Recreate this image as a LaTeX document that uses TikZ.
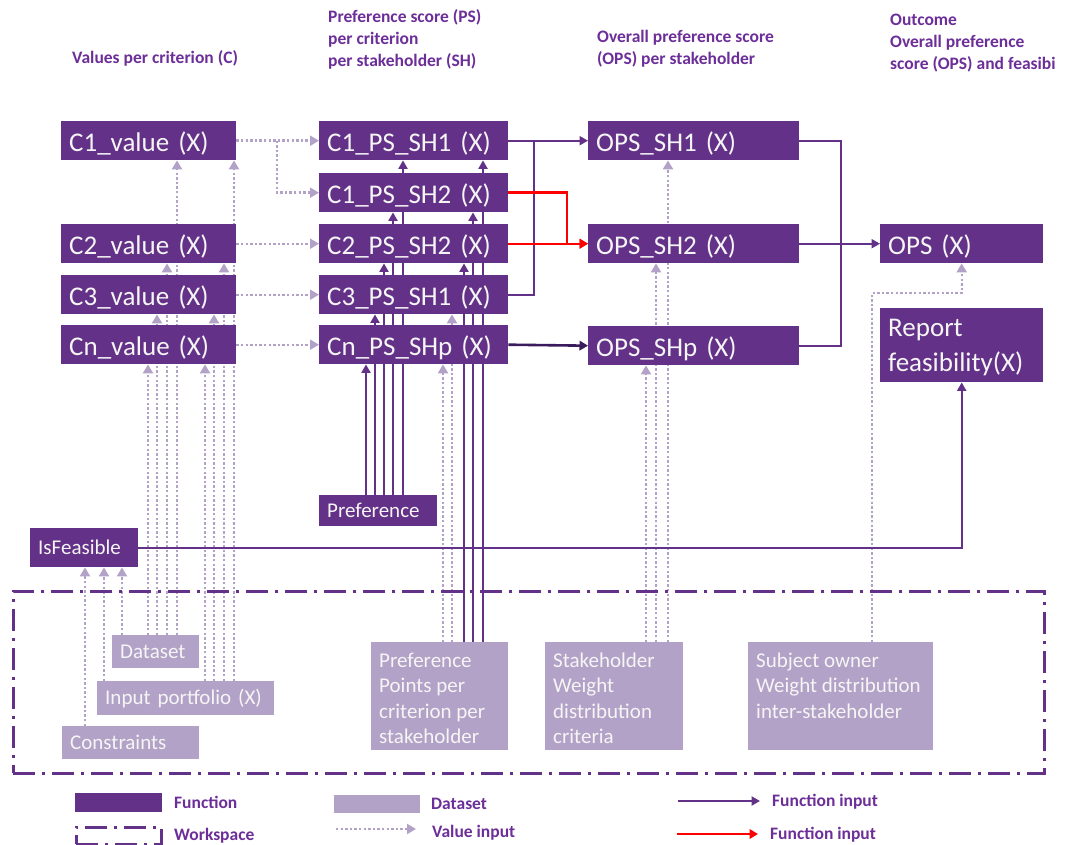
\documentclass[tikz,border=0pt]{standalone}
\usepackage{fontspec}
\setmainfont{Carlito}
\usetikzlibrary{arrows.meta}
\definecolor{fnc}{RGB}{99,49,135}
\definecolor{lav}{RGB}{179,162,199}
\definecolor{hdr}{RGB}{108,46,152}
\definecolor{dk}{RGB}{58,28,92}
\definecolor{txt}{RGB}{245,245,245}
\pgfdeclarelayer{bg}
\pgfsetlayers{bg,main}
\begin{document}
\begin{tikzpicture}[x=1pt,y=-1pt,
  fnbase/.style={fill=fnc, text=txt, anchor=north west, inner xsep=8pt, inner ysep=0pt, font=\fontsize{27}{33}\selectfont},
  fn/.style={fnbase, align=left, text height=22pt, text depth=0pt},
  fns/.style={fnbase, align=left, font=\fontsize{21}{25.5}\selectfont, text height=14pt, text depth=0pt},
  db/.style={fill=lav, text=txt, anchor=north west, inner xsep=8pt, inner ysep=0pt, align=left, font=\fontsize{21}{25.5}\selectfont},
  dbp/.style={fill=lav, text=txt, anchor=north west, inner xsep=8pt, inner ysep=0pt, font=\fontsize{21}{25.5}\selectfont},
  hd/.style={text=hdr, anchor=north west, inner sep=0pt, align=left, font=\fontsize{17.5}{22}\selectfont\bfseries},
  lg/.style={text=hdr, anchor=west, inner sep=0pt, font=\fontsize{17.5}{22}\selectfont\bfseries},
  val/.style={draw=lav, line width=2.4pt, dash pattern=on 2.4pt off 2.2pt, -{Triangle[length=9pt,width=10pt]}},
  fin/.style={draw=fnc, line width=2.2pt, -{Triangle[length=8.5pt,width=9pt]}},
  finl/.style={draw=fnc, line width=2.2pt},
  redf/.style={draw=red, line width=2.4pt, -{Triangle[length=8.5pt,width=9.5pt]}},
  dkf/.style={draw=dk, line width=2.6pt, -{Triangle[length=8.5pt,width=9.5pt]}},
  wsp/.style={draw=fnc, line width=2.5pt, dash pattern=on 22pt off 7pt on 3pt off 7pt, anchor=north west, inner sep=0pt}
]
\useasboundingbox (0,0) rectangle (1073,845);

% headers
\node[hd] (h1) at (72,50) {Values per criterion (C)};
\node[hd] (h2) at (328,9) {Preference score (PS)\\per criterion\\per stakeholder (SH)};
\node[hd] (h3) at (597,30) {Overall preference score\\(OPS) per stakeholder};
\node[hd] (h4) at (890,14) {Outcome\\Overall preference\\score (OPS) and feasibi};

% value functions
\node[fn, text width=159pt, minimum height=39pt] (c1v) at (61,121) {C1\_value (X)};
\node[fn, text width=159pt, minimum height=39pt] (c2v) at (61,224) {C2\_value (X)};
\node[fn, text width=159pt, minimum height=39pt] (c3v) at (61,275) {C3\_value (X)};
\node[fn, text width=159pt, minimum height=39pt] (cnv) at (61,325) {Cn\_value (X)};

% preference score functions
\node[fn, text width=173pt, minimum height=39pt] (p11) at (319,121) {C1\_PS\_SH1 (X)};
\node[fn, text width=173pt, minimum height=39pt] (p12) at (319,173) {C1\_PS\_SH2 (X)};
\node[fn, text width=173pt, minimum height=39pt] (p22) at (319,224) {C2\_PS\_SH2 (X)};
\node[fn, text width=173pt, minimum height=39pt] (p31) at (319,275) {C3\_PS\_SH1 (X)};
\node[fn, text width=173pt, minimum height=39pt] (pnp) at (319,325) {Cn\_PS\_SHp (X)};

% OPS functions
\node[fn, text width=195pt, minimum height=39pt] (o1) at (588,121) {OPS\_SH1 (X)};
\node[fn, text width=195pt, minimum height=39pt] (o2) at (588,224) {OPS\_SH2 (X)};
\node[fn, text width=195pt, minimum height=39pt] (op) at (588,326) {OPS\_SHp (X)};

% outcome
\node[fn, text width=147pt, minimum height=39pt] (ops) at (880,224) {OPS (X)};
\node[fnbase, font=\fontsize{27}{35}\selectfont] (rep) at (880,308) {\parbox[c][74pt][t]{147pt}{\raggedright\rule{0pt}{28pt}Report\\feasibility(X)}};

% other functions
\node[fns, text width=102pt, minimum height=31pt] (pref) at (319,495) {Preference};
\node[fns, text width=92pt, minimum height=39pt] (isf) at (30,528) {IsFeasible};

% workspace
\node[wsp, minimum width=1031pt, minimum height=182pt] (ws) at (12,590) {};

% datasets
\node[db, text width=71pt, minimum height=33pt] (ds) at (112,635) {Dataset};
\node[db, text width=161pt, minimum height=34pt] (ip) at (97,681) {Input portfolio (X)};
\node[db, text width=121pt, minimum height=33pt] (con) at (62,726) {Constraints};
\node[dbp] (pp) at (371,642) {\parbox[c][108pt][t]{121pt}{\raggedright\rule{0pt}{25pt}Preference\\Points per\\criterion per\\stakeholder}};
\node[dbp] (sw) at (545,642) {\parbox[c][108pt][t]{122pt}{\raggedright\rule{0pt}{25pt}Stakeholder\\Weight\\distribution\\criteria}};
\node[dbp] (so) at (748,642) {\parbox[c][108pt][t]{169pt}{\raggedright\rule{0pt}{25pt}Subject owner\\Weight distribution\\inter-stakeholder}};

% connectors
\begin{pgfonlayer}{bg}
\foreach \x/\t in {148/cnv,157/c3v,167/c2v,177/c1v} \draw[val] (ds.north -| \x,0) -- (\t.south -| \x,0);
\foreach \x/\t in {205/cnv,214/c3v,224/c2v,234/c1v} \draw[val] (ip.north -| \x,0) -- (\t.south -| \x,0);
\draw[val] (con.north -| 85,0) -- (isf.south -| 85,0);
\draw[val] (ip.north -| 104,0) -- (isf.south -| 104,0);
\draw[val] (ds.north -| 122,0) -- (isf.south -| 122,0);
\draw[val] (c1v.east) -- (p11.west);
\draw[val] (c1v.east -| 277,0) |- (p12.west);
\draw[val] (c2v.east) -- (p22.west);
\draw[val] (c3v.east) -- (p31.west);
\draw[val] (cnv.east) -- (pnp.west);
\foreach \x/\t in {366/pnp,375/p31,384/p22,393/p12,403/p11} \draw[fin] (pref.north -| \x,0) -- (\t.south -| \x,0);
\foreach \x/\t in {464/p22,473/p12,483/p11} \draw[fin] (pp.north -| \x,0) -- (\t.south -| \x,0);
\draw[val] (pp.north -| 443,0) -- (pnp.south -| 443,0);
\draw[val] (pp.north -| 452,0) -- (p31.south -| 452,0);
\draw[fin] (p11.east) -- (o1.west);
\draw[finl] (p31.east) -| (p11.east -| 534,0);
\draw[redf] (p12.east) -| (o2.west -| 567,0) -- (o2.west);
\draw[redf] (p22.east) -- (o2.west);
\draw[dkf] (pnp.east) -- (op.west);
\draw[val] (sw.north -| 646,0) -- (op.south -| 646,0);
\draw[val] (sw.north -| 656,0) -- (o2.south -| 656,0);
\draw[val] (sw.north -| 668,0) -- (o1.south -| 668,0);
\draw[finl] (o1.east) -| (op.east -| 841,0) -- (op.east);
\draw[fin] (o2.east) -- (ops.west);
\draw[val] (so.north -| 872,0) -- (872,293) -| (ops.south);
\draw[fin] (isf.east) -| (rep.south);
\end{pgfonlayer}

% legend
\node[fnbase, minimum width=87pt, minimum height=19pt, inner sep=0pt] (lfn) at (75,793) {};
\node[lg] (lfnt) at (174,802) {Function};
\node[db, minimum width=86pt, minimum height=18pt, inner sep=0pt] (ldb) at (334,795) {};
\node[lg] (ldbt) at (431,804) {Dataset};
\coordinate (lf1) at (678,801); \coordinate (lf2) at (760,801);
\draw[fin] (lf1) -- (lf2);
\node[lg] (lft) at (772,802) {Function input};
\node[wsp, minimum width=85pt, minimum height=17pt] (lws) at (75,826) {};
\node[lg] (lwst) at (174,836) {Workspace};
\coordinate (lv1) at (336,829); \coordinate (lv2) at (416,829);
\draw[val] (lv1) -- (lv2);
\node[lg] (lvt) at (432,833) {Value input};
\coordinate (lr1) at (677,834); \coordinate (lr2) at (758,834);
\draw[redf] (lr1) -- (lr2);
\node[lg] (lrt) at (770,835) {Function input};
\end{tikzpicture}
\end{document}
